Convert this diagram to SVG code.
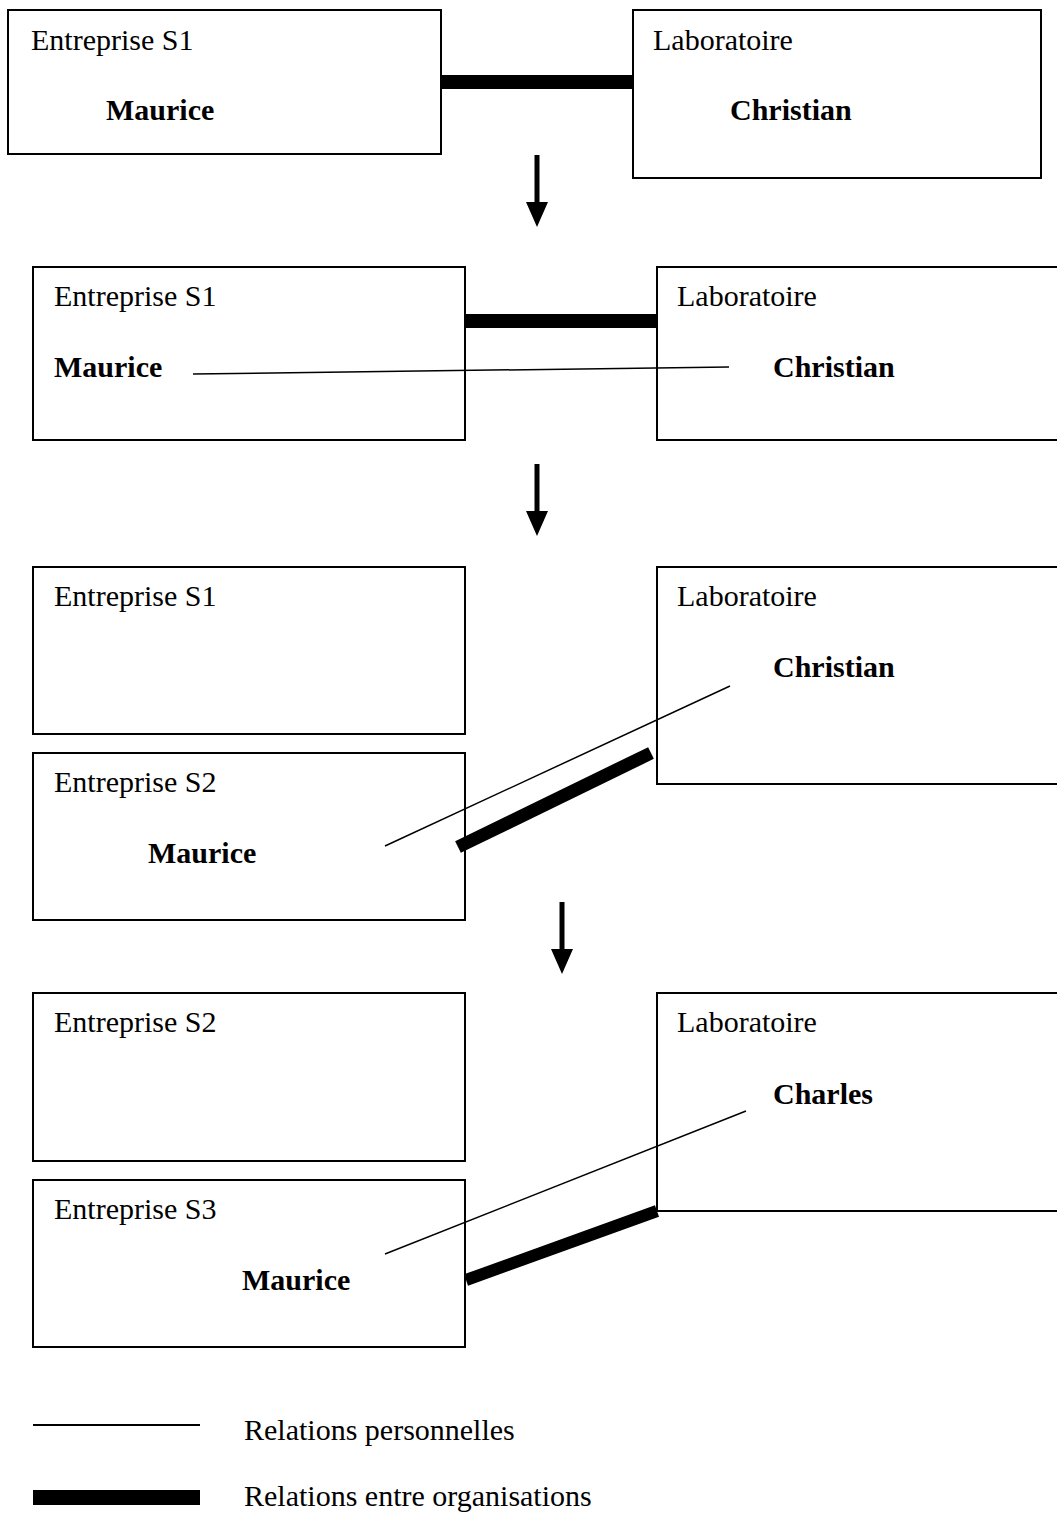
<svg xmlns="http://www.w3.org/2000/svg" width="1057" height="1519" viewBox="0 0 1057 1519">
<defs>
<style>
.box{fill:#fff;stroke:#000;stroke-width:2}
.lbl{font-family:"Liberation Serif","Times New Roman",serif;font-size:30px;fill:#000}
.name{font-family:"Liberation Serif","Times New Roman",serif;font-size:30px;font-weight:bold;fill:#000}
.thin{stroke:#000;stroke-width:1.5;fill:none}
.thick{stroke:#000;stroke-width:14;fill:none;stroke-linecap:butt}
.arrow{fill:#000}
</style>
<path id="arr" d="M-2.5,0 H2.5 V47 H11 L0,72 L-11,47 H-2.5 Z"/>
</defs>
<rect width="1057" height="1519" fill="#fff"/>

<g id="connectors">
<line class="thick" x1="441" y1="82" x2="633" y2="82"/>
<line class="thick" x1="465" y1="321" x2="657" y2="321"/>
<line class="thin" x1="193" y1="374" x2="729" y2="367"/>
<line class="thin" x1="385" y1="846" x2="730" y2="686"/>
<line class="thick" x1="458" y1="847" x2="651" y2="753" style="stroke-width:13"/>
<line class="thin" x1="385" y1="1254" x2="746" y2="1111"/>
<line class="thick" x1="466" y1="1280" x2="657" y2="1211" style="stroke-width:12"/>
<use href="#arr" class="arrow" x="537" y="155"/>
<use href="#arr" class="arrow" x="537" y="464"/>
<use href="#arr" class="arrow" x="562" y="902"/>
</g>

<g id="r1-entreprise-s1">
<rect class="box" x="8" y="10" width="433" height="144"/>
<text class="lbl" x="31" y="50">Entreprise S1</text>
<text class="name" x="106" y="120">Maurice</text>
</g>
<g id="r1-laboratoire">
<rect class="box" x="633" y="10" width="408" height="168"/>
<text class="lbl" x="653" y="50">Laboratoire</text>
<text class="name" x="730" y="120">Christian</text>
</g>

<g id="r2-entreprise-s1">
<rect class="box" x="33" y="267" width="432" height="173" fill="none" style="fill:none"/>
<text class="lbl" x="54" y="306">Entreprise S1</text>
<text class="name" x="54" y="377">Maurice</text>
</g>
<g id="r2-laboratoire">
<rect class="box" x="657" y="267" width="410" height="173" style="fill:none"/>
<text class="lbl" x="677" y="306">Laboratoire</text>
<text class="name" x="773" y="377">Christian</text>
</g>

<g id="r3-entreprise-s1">
<rect class="box" x="33" y="567" width="432" height="167"/>
<text class="lbl" x="54" y="606">Entreprise S1</text>
</g>
<g id="r3-entreprise-s2">
<rect class="box" x="33" y="753" width="432" height="167" style="fill:none"/>
<text class="lbl" x="54" y="792">Entreprise S2</text>
<text class="name" x="148" y="863">Maurice</text>
</g>
<g id="r3-laboratoire">
<rect class="box" x="657" y="567" width="410" height="217" style="fill:none"/>
<text class="lbl" x="677" y="606">Laboratoire</text>
<text class="name" x="773" y="677">Christian</text>
</g>

<g id="r4-entreprise-s2">
<rect class="box" x="33" y="993" width="432" height="168"/>
<text class="lbl" x="54" y="1032">Entreprise S2</text>
</g>
<g id="r4-entreprise-s3">
<rect class="box" x="33" y="1180" width="432" height="167" style="fill:none"/>
<text class="lbl" x="54" y="1219">Entreprise S3</text>
<text class="name" x="242" y="1290">Maurice</text>
</g>
<g id="r4-laboratoire">
<rect class="box" x="657" y="993" width="410" height="218" style="fill:none"/>
<text class="lbl" x="677" y="1032">Laboratoire</text>
<text class="name" x="773" y="1104">Charles</text>
</g>

<g id="legend">
<line x1="33" y1="1425" x2="200" y2="1425" stroke="#000" stroke-width="2"/>
<text class="lbl" x="244" y="1440">Relations personnelles</text>
<rect x="33" y="1490" width="167" height="15" fill="#000"/>
<text class="lbl" x="244" y="1506">Relations entre organisations</text>
</g>
</svg>
